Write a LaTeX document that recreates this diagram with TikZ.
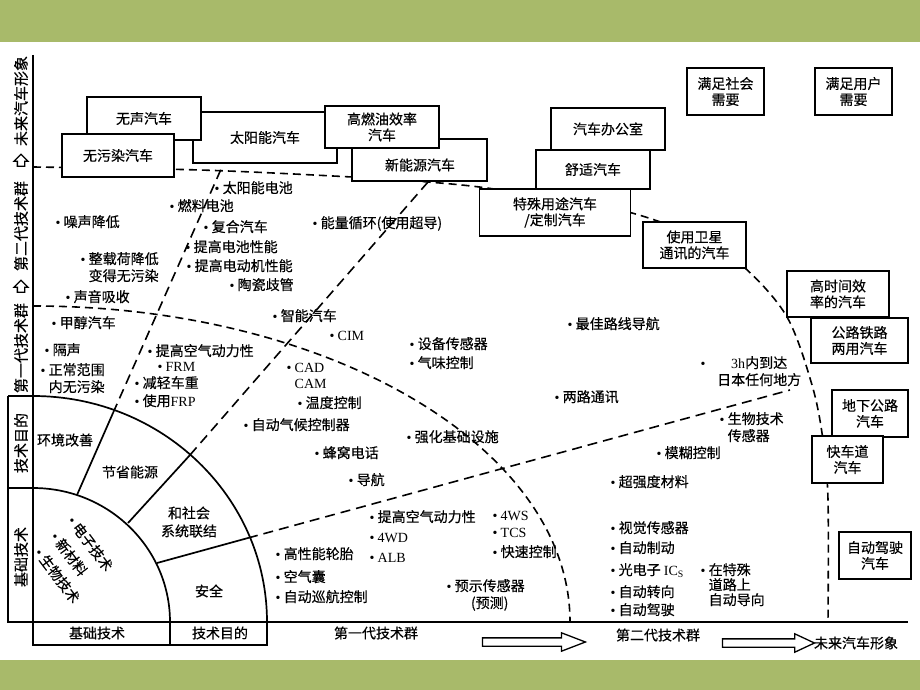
\documentclass[tikz,border=0pt]{standalone}
\usepackage{fontspec}
\usepackage{tikz}
\usetikzlibrary{shapes.arrows}
\setmainfont{Noto Sans CJK SC}[FakeBold=0.4]
\newfontfamily\lat{Liberation Serif}
\definecolor{slidegreen}{RGB}{168,186,106}
\newcommand{\bul}{\makebox[8pt][l]{\lat\textbullet}}
\tikzstyle{carbox} = [draw=black, fill=white, line width=1.8pt,
rectangle, inner sep=2pt, align=center, font=\fontsize{14}{16}\selectfont]
\tikzstyle{itm} = [anchor=base west, inner sep=0pt, align=left, font=\fontsize{14}{17}\selectfont]
\tikzstyle{lbl} = [inner sep=0pt, align=center, font=\fontsize{14}{18}\selectfont]
\tikzstyle{sidelbl} = [inner sep=0pt, rotate=90, font=\fontsize{15}{15}\selectfont]
\tikzstyle{gen} = [dash pattern=on 8pt off 5pt, line width=1.6pt]
\tikzstyle{rad} = [dash pattern=on 10pt off 6pt, line width=1.6pt]
\tikzstyle{frame} = [line width=1.7pt]
\tikzstyle{hollow} = [draw, single arrow, line width=1.3pt, inner xsep=0pt, fill=white]

\begin{document}
\begin{tikzpicture}[x=1pt, y=-1pt]
\fill[slidegreen] (0,0) rectangle (920,690);
\useasboundingbox (0,0) rectangle (920,690);
\fill[white] (0,42) rectangle (920,660);

% generation boundaries
\draw[gen] (33,306) arc[start angle=-90, end angle=0, x radius=537, y radius=316];
\draw[gen] plot[smooth, tension=0.55] coordinates {(33,167) (200,170) (352,177) (428,182)
  (487,188) (560,200) (632,213) (700,238) (745,268) (787,317) (812,385) (823,440) (828,500) (828,622)};

% sector lines
\coordinate (a1) at (77,495);  \coordinate (b1) at (113,413); \coordinate (c1) at (222,167);
\coordinate (a2) at (128,523); \coordinate (b2) at (190,455); \coordinate (c2) at (428,182);
\coordinate (a3) at (157,563); \coordinate (b3) at (248,538); \coordinate (c3) at (790,390);
\draw[frame] (a1) -- (b1); \draw[rad] (b1) -- (c1);
\draw[frame] (a2) -- (b2); \draw[rad] (b2) -- (c2);
\draw[frame] (a3) -- (b3); \draw[rad] (b3) -- (c3);

% quarter rings and frame
\draw[frame] (8,488) -- (33,488) arc[start angle=-90, end angle=0, x radius=137, y radius=134];
\draw[frame] (8,396) -- (33,396) arc[start angle=-90, end angle=0, x radius=234, y radius=226];
\draw[frame] (33,55) -- (33,645) -- (267,645) -- (267,622);
\draw[frame] (170,622) -- (170,645);
\draw[frame] (8,396) -- (8,622) -- (908,622);

% future car boxes
\node[carbox, minimum width=144, minimum height=51] (taiyang) at (265,137.5) {太阳能汽车};
\node[carbox, minimum width=114, minimum height=43] (wusheng) at (144,118.5) {无声汽车};
\node[carbox, minimum width=112, minimum height=43] (wuwuran) at (118,155.5) {无污染汽车};
\node[carbox, minimum width=135, minimum height=42] (xinneng) at (419.5,160) {};
\node[lbl] (xinnengt) at (420,165) {新能源汽车};
\node[carbox, minimum width=114, minimum height=42] (gaoran) at (382,127) {高燃油效率\\汽车};
\node[carbox, minimum width=151, minimum height=47] (teshu) at (555,212.5) {特殊用途汽车\\/定制汽车};
\node[carbox, minimum width=114, minimum height=39] (shushi) at (593,169.5) {舒适汽车};
\node[carbox, minimum width=114, minimum height=42] (bangong) at (608,129) {汽车办公室};
\node[carbox, minimum width=103, minimum height=46] (weixing) at (694.5,245) {使用卫星\\通讯的汽车};
\node[carbox, minimum width=77, minimum height=47] (shehui) at (725.5,91.5) {满足社会\\需要};
\node[carbox, minimum width=77, minimum height=47] (yonghu) at (853.5,91.5) {满足用户\\需要};
\node[carbox, minimum width=102, minimum height=46] (shijian) at (838,294) {高时间效\\率的汽车};
\node[carbox, minimum width=97, minimum height=45] (tielu) at (859.5,340.5) {公路铁路\\两用汽车};
\node[carbox, minimum width=76, minimum height=47] (dixia) at (870,413.5) {地下公路\\汽车};
\node[carbox, minimum width=71, minimum height=47] (kuaiche) at (847.5,459.5) {快车道\\汽车};
\node[carbox, minimum width=72, minimum height=47] (zidongcar) at (875,555.5) {自动驾驶\\汽车};

% ring labels
\node[lbl] (huanjing) at (65,440) {环境改善};
\node[lbl] (jieneng) at (130,472) {节省能源};
\node[lbl] (lianjie) at (189,522) {和社会\\系统联结};
\node[lbl] (anquan) at (209,591) {安全};
\node[itm, anchor=west, rotate=-53] (dianzi) at (71,518) {\bul 电子技术};
\node[itm, anchor=west, rotate=-53] (cailiao) at (54,534) {\bul 新材料};
\node[itm, anchor=west, rotate=-53] (shengwu) at (38,550) {\bul 生物技术};
\node[lbl] (jichu) at (97,633) {基础技术};
\node[lbl] (mudi) at (220,633) {技术目的};

% axis labels
\node[sidelbl] (weilai) at (21,101) {未来汽车形象};
\node[hollow, rotate=90, minimum height=12, inner ysep=3pt, single arrow head extend=3.5] (up2) at (21,162) {};
\node[sidelbl] (dier) at (21,226) {第二代技术群};
\node[hollow, rotate=90, minimum height=12, inner ysep=3pt, single arrow head extend=3.5] (up1) at (21,288) {};
\node[sidelbl] (diyi) at (21,348) {第一代技术群};
\node[sidelbl] (mudiside) at (21,443) {技术目的};
\node[sidelbl] (jichuside) at (21,557) {基础技术};
\node[lbl] (diyib) at (376,633) {第一代技术群};
\node[hollow, minimum height=103, inner ysep=3.5pt, single arrow head extend=5, single arrow tip angle=42] (arr1) at (528.5,642) {};
\node[lbl] (dierb) at (658,635) {第二代技术群};
\node[hollow, minimum height=92, inner ysep=3.5pt, single arrow head extend=5, single arrow tip angle=50] (arr2) at (764,643) {};
\node[lbl] (weilaib) at (856,643) {未来汽车形象};

% second generation
\node[itm] (zaosheng) at (55.5,227) {\bul 噪声降低};
\node[itm] (zaizhong) at (80.5,281) {\bul 整载荷降低\\\hspace*{8pt}变得无污染};
\node[itm] (xishou) at (65.5,302) {\bul 声音吸收};
\node[itm] (tydc) at (214.5,193) {\bul 太阳能电池};
\node[itm] (rldc) at (169.5,211) {\bul 燃料电池};
\node[itm] (fuhe) at (203.5,232) {\bul 复合汽车};
\node[itm] (dianchi) at (185.5,252) {\bul 提高电池性能};
\node[itm] (dianji) at (186.5,271) {\bul 提高电动机性能};
\node[itm] (taoci) at (229.5,290) {\bul 陶瓷歧管};
\node[itm] (xunhuan) at (312.5,228) {\bul 能量循环(使用超导)};
\node[itm] (zuijia) at (567.5,329) {\bul 最佳路线导航};
\node[itm] (daoda) at (700.5,368) {\bul\hspace{8.5pt}\begin{tabular}[t]{@{}c@{}}{\lat 3h}内到达\\日本任何地方\end{tabular}};
\node[itm] (lianglu) at (554.5,402) {\bul 两路通讯};
\node[itm] (swcgq) at (719.5,441) {\bul 生物技术\\\hspace*{8pt}传感器};
\node[itm] (mohu) at (656.5,458) {\bul 模糊控制};
\node[itm] (chaoqiang) at (610.5,487) {\bul 超强度材料};
\node[itm] (shijue) at (610.5,533) {\bul 视觉传感器};
\node[itm] (zhidong) at (610.5,553) {\bul 自动制动};
\node[itm] (guangdian) at (610.5,575) {\bul 光电子 {\lat IC\textsubscript{S}}};
\node[itm] (zhuanxiang) at (610.5,597) {\bul 自动转向};
\node[itm] (jiashi) at (610.5,615) {\bul 自动驾驶};
\node[itm, font=\fontsize{14}{15}\selectfont] (daoxiang) at (700.5,605) {\bul 在特殊\\\hspace*{8pt}道路上\\\hspace*{8pt}自动导向};

% first generation
\node[itm] (jiachun) at (51.5,328) {\bul 甲醇汽车};
\node[itm] (gesheng) at (44.5,355) {\bul 隔声};
\node[itm] (fanwei) at (40.5,392) {\bul 正常范围\\\hspace*{8pt}内无污染};
\node[itm] (kongqi) at (147.5,356) {\bul 提高空气动力性};
\node[itm] (frm) at (157.5,371) {\bul {\lat FRM}};
\node[itm] (jianqing) at (134.5,388) {\bul 减轻车重};
\node[itm] (frp) at (134.5,406) {\bul 使用{\lat FRP}};
\node[itm] (zhineng) at (272.5,321) {\bul 智能汽车};
\node[itm] (cim) at (329.5,340) {\bul {\lat CIM}};
\node[itm] (shebei) at (409.5,349) {\bul 设备传感器};
\node[itm] (qiwei) at (409.5,368) {\bul 气味控制};
\node[itm, font=\fontsize{14}{16}\selectfont] (cad) at (286.5,388) {\bul {\lat CAD}\\\hspace*{8pt}{\lat CAM}};
\node[itm] (wendu) at (297.5,408) {\bul 温度控制};
\node[itm] (qihou) at (243.5,430) {\bul 自动气候控制器};
\node[itm] (qianghua) at (406.5,442) {\bul 强化基础设施};
\node[itm] (fengwo) at (314.5,458) {\bul 蜂窝电话};
\node[itm] (daohang) at (348.5,485) {\bul 导航};
\node[itm] (kongqib) at (369.5,522) {\bul 提高空气动力性};
\node[itm] (wd) at (369.5,542) {\bul {\lat 4WD}};
\node[itm] (alb) at (369.5,562) {\bul {\lat ALB}};
\node[itm] (luntai) at (275.5,559) {\bul 高性能轮胎};
\node[itm] (qinang) at (275.5,582) {\bul 空气囊};
\node[itm] (xunhang) at (275.5,602) {\bul 自动巡航控制};
\node[itm] (ws) at (492.5,520) {\bul {\lat 4WS}};
\node[itm] (tcs) at (492.5,537) {\bul {\lat TCS}};
\node[itm] (kuaisu) at (492.5,557) {\bul 快速控制};
\node[itm] (yushi) at (446.5,591) {\bul\begin{tabular}[t]{@{}c@{}}预示传感器\\(预测)\end{tabular}};
\end{tikzpicture}
\end{document}
